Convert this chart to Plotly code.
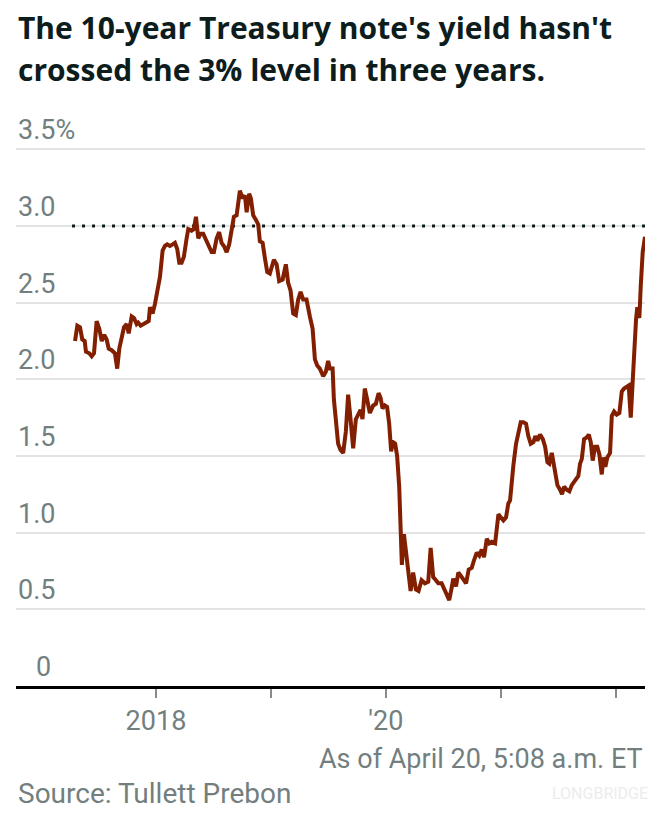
import numpy as np
import pandas as pd
import plotly.graph_objects as go

# ---- data ----
# dates as decimal years, yields in percent
dec_years = [
    2017.296, 2017.316, 2017.339, 2017.359, 2017.380, 2017.391, 2017.420, 2017.441, 2017.461, 2017.484,
    2017.507, 2017.528, 2017.550, 2017.571, 2017.589, 2017.615, 2017.643, 2017.663, 2017.681, 2017.702,
    2017.722, 2017.745, 2017.763, 2017.789, 2017.809, 2017.832, 2017.846, 2017.867, 2017.890, 2017.913,
    2017.937, 2017.948, 2017.971, 2017.991, 2018.011, 2018.035, 2018.058, 2018.078, 2018.098, 2018.122,
    2018.145, 2018.165, 2018.185, 2018.203, 2018.223, 2018.243, 2018.267, 2018.281, 2018.310, 2018.330,
    2018.348, 2018.368, 2018.389, 2018.411, 2018.435, 2018.463, 2018.484, 2018.504, 2018.528, 2018.550,
    2018.571, 2018.591, 2018.615, 2018.637, 2018.658, 2018.678, 2018.702, 2018.716, 2018.730, 2018.754,
    2018.774, 2018.789, 2018.811, 2018.826, 2018.846, 2018.870, 2018.890, 2018.904, 2018.928, 2018.948,
    2018.968, 2018.991, 2019.015, 2019.026, 2019.050, 2019.072, 2019.102, 2019.130, 2019.150, 2019.171,
    2019.194, 2019.217, 2019.237, 2019.258, 2019.281, 2019.310, 2019.339, 2019.363, 2019.383, 2019.403,
    2019.426, 2019.455, 2019.478, 2019.498, 2019.513, 2019.537, 2019.548, 2019.571, 2019.585, 2019.606,
    2019.629, 2019.652, 2019.672, 2019.693, 2019.716, 2019.739, 2019.759, 2019.780, 2019.797, 2019.817,
    2019.837, 2019.861, 2019.890, 2019.913, 2019.937, 2019.954, 2019.971, 2019.991, 2020.011, 2020.029,
    2020.046, 2020.063, 2020.081, 2020.098, 2020.116, 2020.128, 2020.139, 2020.157, 2020.174, 2020.194,
    2020.215, 2020.237, 2020.261, 2020.284, 2020.310, 2020.339, 2020.368, 2020.389, 2020.411, 2020.435,
    2020.455, 2020.484, 2020.504, 2020.528, 2020.550, 2020.571, 2020.585, 2020.609, 2020.629, 2020.650,
    2020.672, 2020.696, 2020.719, 2020.745, 2020.765, 2020.789, 2020.811, 2020.832, 2020.852, 2020.876,
    2020.898, 2020.919, 2020.948, 2020.977, 2020.997, 2021.020, 2021.043, 2021.063, 2021.078, 2021.093,
    2021.107, 2021.130, 2021.150, 2021.171, 2021.194, 2021.217, 2021.237, 2021.258, 2021.281, 2021.298,
    2021.316, 2021.339, 2021.363, 2021.383, 2021.403, 2021.420, 2021.441, 2021.455, 2021.472, 2021.490,
    2021.513, 2021.530, 2021.548, 2021.571, 2021.594, 2021.615, 2021.643, 2021.672, 2021.687, 2021.702,
    2021.722, 2021.745, 2021.763, 2021.780, 2021.797, 2021.817, 2021.837, 2021.855, 2021.876, 2021.890,
    2021.907, 2021.924, 2021.948, 2021.963, 2021.983, 2022.006, 2022.029, 2022.050, 2022.070, 2022.093,
    2022.110, 2022.128, 2022.145, 2022.157, 2022.174, 2022.185, 2022.203, 2022.215, 2022.232, 2022.252,
]
yields = [
    2.25, 2.35, 2.34, 2.26, 2.25, 2.18, 2.17, 2.15, 2.17, 2.38,
    2.33, 2.25, 2.29, 2.26, 2.20, 2.19, 2.17, 2.07, 2.20, 2.26,
    2.34, 2.36, 2.30, 2.41, 2.40, 2.36, 2.37, 2.35, 2.36, 2.37,
    2.38, 2.47, 2.43, 2.49, 2.58, 2.67, 2.84, 2.87, 2.88, 2.87,
    2.88, 2.89, 2.85, 2.76, 2.76, 2.80, 2.92, 2.98, 2.97, 2.98,
    3.06, 2.92, 2.95, 2.95, 2.91, 2.86, 2.83, 2.83, 2.92, 2.96,
    2.89, 2.87, 2.83, 2.88, 2.98, 3.06, 3.07, 3.16, 3.23, 3.18,
    3.20, 3.09, 3.21, 3.18, 3.07, 3.04, 3.01, 2.90, 2.89, 2.79,
    2.70, 2.69, 2.76, 2.78, 2.75, 2.64, 2.65, 2.75, 2.63, 2.58,
    2.43, 2.42, 2.52, 2.57, 2.52, 2.52, 2.41, 2.33, 2.13, 2.09,
    2.07, 2.02, 2.05, 2.12, 2.07, 2.07, 1.87, 1.72, 1.58, 1.54,
    1.52, 1.66, 1.90, 1.74, 1.55, 1.74, 1.77, 1.80, 1.74, 1.94,
    1.87, 1.78, 1.83, 1.84, 1.91, 1.88, 1.81, 1.83, 1.82, 1.71,
    1.53, 1.59, 1.58, 1.50, 1.30, 1.10, 0.79, 0.99, 0.87, 0.71,
    0.62, 0.74, 0.63, 0.62, 0.69, 0.67, 0.68, 0.90, 0.71, 0.69,
    0.67, 0.67, 0.64, 0.59, 0.56, 0.64, 0.70, 0.65, 0.74, 0.72,
    0.70, 0.67, 0.76, 0.77, 0.82, 0.87, 0.85, 0.89, 0.84, 0.96,
    0.93, 0.94, 0.93, 1.12, 1.10, 1.08, 1.10, 1.19, 1.21, 1.34,
    1.44, 1.58, 1.65, 1.72, 1.72, 1.71, 1.63, 1.58, 1.59, 1.63,
    1.60, 1.64, 1.61, 1.56, 1.46, 1.45, 1.52, 1.46, 1.39, 1.31,
    1.28, 1.25, 1.30, 1.28, 1.27, 1.31, 1.34, 1.37, 1.45, 1.48,
    1.61, 1.62, 1.64, 1.59, 1.47, 1.56, 1.56, 1.51, 1.38, 1.49,
    1.43, 1.49, 1.52, 1.76, 1.79, 1.77, 1.78, 1.92, 1.94, 1.95,
    1.96, 1.75, 2.01, 2.13, 2.39, 2.47, 2.40, 2.61, 2.83, 2.93,
]
threshold = 3.0
threshold_start = 2017.27
x_range_dec = [2016.783, 2022.252]

y_tick_vals = [0, 0.5, 1.0, 1.5, 2.0, 2.5, 3.0, 3.5]
y_tick_text = ["0", "0.5", "1.0", "1.5", "2.0", "2.5", "3.0", "3.5%"]
x_tick_years = [2018, 2019, 2020, 2021, 2022]
x_tick_text = ["2018", "", "'20", "", ""]

title_lines = ["The 10-year Treasury note's yield hasn't",
               "crossed the 3% level in three years."]
asof_text = "As of April 20, 5:08 a.m. ET"
source_text = "Source: Tullett Prebon"


def dec_to_ts(y):
    yr = int(np.floor(y))
    start = pd.Timestamp(yr, 1, 1)
    end = pd.Timestamp(yr + 1, 1, 1)
    return start + (y - yr) * (end - start)


dates = [dec_to_ts(v) for v in dec_years]
x_range = [dec_to_ts(v) for v in x_range_dec]
x_ticks = [pd.Timestamp(y, 1, 1) for y in x_tick_years]

LINE_COLOR = "#821f00"
GRAY = "#737f7f"
DARK = "#0d1c1c"
FONT = "Roboto"
TITLE_FONT = "Open Sans"

W, H = 668, 816
ML, MR, MT, MB = 16, 23, 134, 130
PH = H - MT - MB


def py(px):
    # pixel row -> paper y
    return (H - MB - px) / PH


def pxx(px):
    return (px - ML) / (W - ML - MR)


fig = go.Figure()
fig.add_trace(go.Scatter(
    x=[dec_to_ts(threshold_start), x_range[1]], y=[threshold, threshold],
    mode="lines", line=dict(color=DARK, width=3, dash="3px,7px"),
    hoverinfo="skip", showlegend=False))
fig.add_trace(go.Scatter(
    x=dates, y=yields, mode="lines",
    line=dict(color=LINE_COLOR, width=4),
    showlegend=False, cliponaxis=False))

annotations = []
for v, t in zip(y_tick_vals, y_tick_text):
    if t == "0":
        annotations.append(dict(x=pxx(53), xanchor="right", y=v, yref="y", xref="paper",
                                yanchor="bottom", yshift=1, text=t, showarrow=False,
                                font=dict(family=FONT, size=27, color=GRAY)))
    else:
        annotations.append(dict(x=0, xanchor="left", y=v, yref="y", xref="paper",
                                yanchor="bottom", yshift=1, text=t, showarrow=False,
                                font=dict(family=FONT, size=27, color=GRAY)))

annotations.append(dict(x=0, xref="paper", xanchor="left", y=py(5), yref="paper", yanchor="top",
                        text="<b>" + title_lines[0] + "</b>", showarrow=False,
                        font=dict(family=TITLE_FONT, size=30, color=DARK)))
annotations.append(dict(x=0, xref="paper", xanchor="left", y=py(47), yref="paper", yanchor="top",
                        text="<b>" + title_lines[1] + "</b>", showarrow=False,
                        font=dict(family=TITLE_FONT, size=30, color=DARK)))
annotations.append(dict(x=1, xref="paper", xanchor="right", y=py(741), yref="paper", yanchor="top",
                        text=asof_text, showarrow=False,
                        font=dict(family=FONT, size=27, color=GRAY)))
annotations.append(dict(x=0, xref="paper", xanchor="left", y=py(775), yref="paper", yanchor="top",
                        text=source_text, showarrow=False,
                        font=dict(family=FONT, size=28, color=GRAY)))
annotations.append(dict(x=pxx(600), xref="paper", xanchor="center", y=py(793), yref="paper",
                        yanchor="middle", text="LONGBRIDGE", showarrow=False,
                        font=dict(family=FONT, size=16, color="#ececec")))

fig.update_layout(
    width=W, height=H,
    margin=dict(l=ML, r=MR, t=MT, b=MB, pad=0),
    plot_bgcolor="white", paper_bgcolor="white",
    annotations=annotations,
    xaxis=dict(range=x_range, tickvals=x_ticks, ticktext=x_tick_text,
               showgrid=False, zeroline=False,
               showline=True, linecolor="black", linewidth=3,
               ticks="outside", ticklen=9, tickwidth=2, tickcolor="#8a8a8a",
               tickfont=dict(family=FONT, size=27, color=GRAY),
               fixedrange=True),
    yaxis=dict(range=[0, 3.6], tickvals=y_tick_vals[1:], showticklabels=False,
               showgrid=True, gridcolor="#e3e3e3", gridwidth=1.5,
               zeroline=False, showline=False, fixedrange=True),
    hovermode=False,
)

fig.write_html("out.html", config={"displayModeBar": False},
               post_script="document.body.style.margin='0';document.body.style.overflow='hidden';")
